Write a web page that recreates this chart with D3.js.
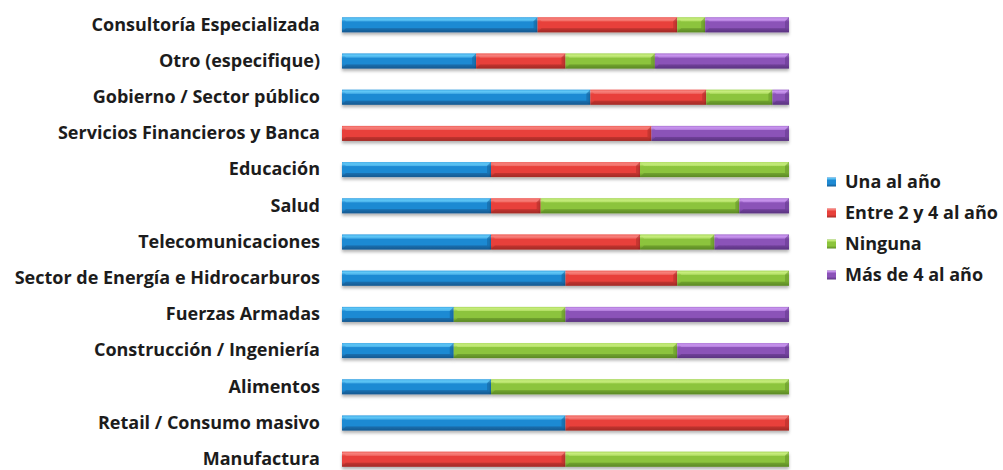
<!DOCTYPE html>
<html>
<head>
<meta charset="utf-8">
<script src="https://cdn.jsdelivr.net/npm/d3@7"></script>
<style>
  html, body { margin: 0; padding: 0; background: #ffffff; }
  svg { display: block; }
  .lbl { font-family: "Open Sans", Lato, sans-serif; font-weight: 700; fill: #1c1c1c; }
</style>
</head>
<body>
<svg id="chart" width="1003" height="470"></svg>
<script>
// ---- data ----
const categories = [
  "Consultoría Especializada",
  "Otro (especifique)",
  "Gobierno / Sector público",
  "Servicios Financieros y Banca",
  "Educación",
  "Salud",
  "Telecomunicaciones",
  "Sector de Energía e Hidrocarburos",
  "Fuerzas Armadas",
  "Construcción / Ingeniería",
  "Alimentos",
  "Retail / Consumo masivo",
  "Manufactura"
];
const seriesNames = ["Una al año", "Entre 2 y 4 al año", "Ninguna", "Más de 4 al año"];
const unaAlAnio   = [7, 3, 15, 0, 1, 3, 2, 2, 1, 1, 1, 1, 0];
const entre2y4    = [5, 2, 7, 9, 1, 1, 2, 1, 0, 0, 0, 1, 1];
const ninguna     = [1, 2, 4, 0, 1, 4, 1, 1, 1, 2, 2, 0, 1];
const masDe4      = [3, 3, 1, 4, 0, 1, 1, 0, 2, 1, 0, 0, 0];
const seriesValues = [unaAlAnio, entre2y4, ninguna, masDe4];

// ---- styles ----
const palette = [
  {base: "#1f8ad3", light: "#5fc6f6", dark: "#155a92"},
  {base: "#e8413b", light: "#f6807a", dark: "#a32a25"},
  {base: "#8cc43c", light: "#c6ec7c", dark: "#5c8a24"},
  {base: "#8b52b8", light: "#c995ef", dark: "#5b3482"}
];

const svg = d3.select("#chart");
const defs = svg.append("defs");

const f = defs.append("filter").attr("id", "shadow")
  .attr("x", "-5%").attr("y", "-40%").attr("width", "110%").attr("height", "200%");
f.append("feDropShadow").attr("dx", 0).attr("dy", 2.5).attr("stdDeviation", 1.6)
  .attr("flood-color", "#000").attr("flood-opacity", 0.3);

palette.forEach((c, i) => {
  const g = defs.append("linearGradient").attr("id", "grad" + i)
    .attr("x1", 0).attr("y1", 0).attr("x2", 0).attr("y2", 1);
  g.append("stop").attr("offset", "0%").attr("stop-color", c.base);
  g.append("stop").attr("offset", "12%").attr("stop-color", c.light);
  g.append("stop").attr("offset", "30%").attr("stop-color", c.base);
  g.append("stop").attr("offset", "70%").attr("stop-color", c.base);
  g.append("stop").attr("offset", "100%").attr("stop-color", c.dark);
});

// ---- scales ----
const x = d3.scaleLinear().domain([0, 1]).range([342, 789]);
const y = d3.scaleBand().domain(categories)
  .range([6.7, 6.7 + 13 * 36.2]).paddingInner(0.586).paddingOuter(0.293);

const rows = categories.map((c, i) => {
  const o = {cat: c};
  seriesNames.forEach((s, j) => o[s] = seriesValues[j][i]);
  return o;
});
const stack = d3.stack().keys(seriesNames).offset(d3.stackOffsetExpand);
const stacked = stack(rows);

// ---- bars ----
const layers = svg.append("g").selectAll("g.layer").data(stacked).join("g")
  .attr("class", "layer");

const bh = y.bandwidth();
layers.each(function(layer, li) {
  const g = d3.select(this);
  const segs = layer.filter(d => d[1] - d[0] > 0);
  const seg = g.selectAll("g.seg").data(segs).join("g").attr("class", "seg");
  seg.append("rect")
    .attr("x", d => x(d[0]))
    .attr("y", d => y(d.data.cat))
    .attr("width", d => x(d[1]) - x(d[0]))
    .attr("height", bh)
    .attr("fill", "url(#grad" + li + ")")
    .attr("filter", "url(#shadow)");
  // bevel top highlight
  seg.append("path")
    .attr("d", d => {
      const x0 = x(d[0]), x1 = x(d[1]), y0 = y(d.data.cat);
      const p = d3.path();
      p.moveTo(x0, y0);
      p.lineTo(x1, y0);
      p.lineTo(x1 - 4, y0 + 4);
      p.lineTo(x0 + 4, y0 + 4);
      p.closePath();
      return p.toString();
    })
    .attr("fill", palette[li].light).attr("opacity", 0.55);
  // bevel bottom shade
  seg.append("path")
    .attr("d", d => {
      const x0 = x(d[0]), x1 = x(d[1]), y0 = y(d.data.cat);
      const p = d3.path();
      p.moveTo(x0, y0 + bh);
      p.lineTo(x1, y0 + bh);
      p.lineTo(x1 - 4, y0 + bh - 4);
      p.lineTo(x0 + 4, y0 + bh - 4);
      p.closePath();
      return p.toString();
    })
    .attr("fill", palette[li].dark).attr("opacity", 0.5);
  // side shading
  seg.append("path")
    .attr("d", d => {
      const x0 = x(d[0]), x1 = x(d[1]), y0 = y(d.data.cat);
      return `M${x1},${y0}L${x1},${y0 + bh}L${x1 - 4},${y0 + bh - 4}L${x1 - 4},${y0 + 4}Z`;
    })
    .attr("fill", palette[li].dark).attr("opacity", 0.45);
});

// ---- category axis ----
const axis = d3.axisLeft(y).tickSize(0).tickPadding(22);
const ax = svg.append("g").attr("transform", "translate(342,0)").call(axis);
ax.select(".domain").remove();
ax.selectAll("text").attr("class", "lbl").attr("font-size", 18)
  .style("font-family", "'Open Sans', Lato, sans-serif").style("font-weight", 700)
  .attr("fill", "#1c1c1c");

// ---- legend ----
const ly = d3.scalePoint().domain(seriesNames).range([182, 275]);
const leg = svg.append("g").selectAll("g").data(seriesNames).join("g")
  .attr("transform", d => `translate(827,${ly(d)})`);
leg.append("rect").attr("x", 0).attr("y", -4.5).attr("width", 9).attr("height", 9)
  .attr("fill", (d, i) => `url(#grad${i})`);
leg.append("text").attr("class", "lbl").attr("x", 18).attr("dy", "0.35em")
  .attr("font-size", 18).text(d => d);
</script>
</body>
</html>
